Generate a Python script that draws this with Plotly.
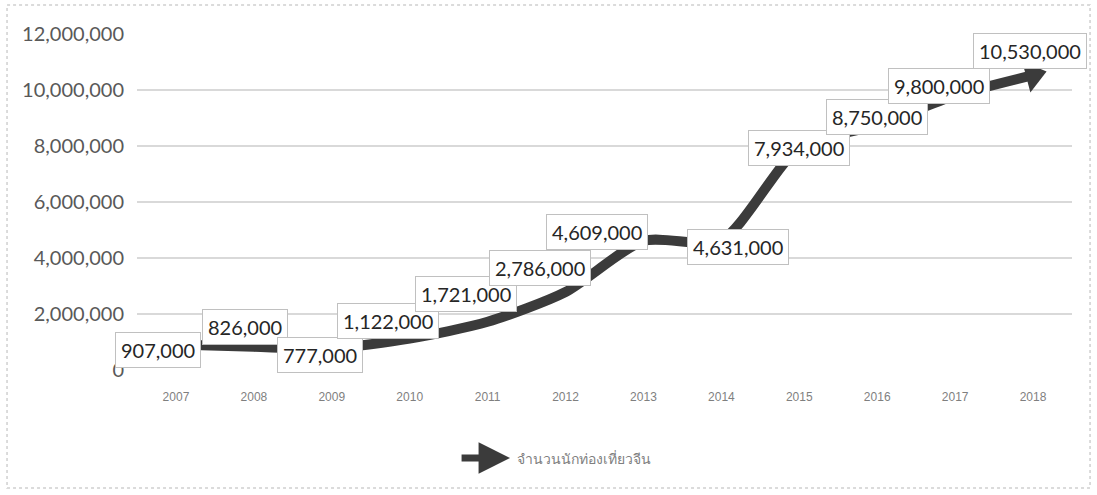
import plotly.graph_objects as go

years = [2007, 2008, 2009, 2010, 2011, 2012, 2013, 2014, 2015, 2016, 2017, 2018]
tourists = [907000, 826000, 777000, 1122000, 1721000, 2786000, 4609000, 4631000,
            7934000, 8750000, 9800000, 10530000]
series_name = "จำนวนนักท่องเที่ยวจีน"
y_ticks = [0, 2000000, 4000000, 6000000, 8000000, 10000000, 12000000]
y_tick_text = ["0", "2,000,000", "4,000,000", "6,000,000", "8,000,000", "10,000,000", "12,000,000"]

# label offsets in pixels (x, y-up)
label_dx = [-18, -9, -12, -22, -22, -26, -46, 17, 0, 0, -16, -3]
label_dy = [-5, 20, -7, 18, 28, 24, 9, -7, 0, 8, 10, 24]

line_color = "#3b3b3b"

fig = go.Figure()
fig.add_trace(go.Scatter(
    x=years, y=tourists, mode="lines", name=series_name,
    line=dict(color=line_color, width=10, shape="spline", smoothing=0.7),
    showlegend=False, hoverinfo="skip",
))
# arrow head at the last point
fig.add_trace(go.Scatter(
    x=years[-2:], y=tourists[-2:], mode="markers",
    marker=dict(symbol="triangle-up", angleref="previous", size=[0, 28],
                color=line_color, opacity=1, line=dict(width=0)),
    showlegend=False, hoverinfo="skip",
))

for yr, v, dx, dy in zip(years, tourists, label_dx, label_dy):
    fig.add_annotation(
        x=yr, y=v, text=f"{v:,}", showarrow=False, xshift=dx, yshift=dy,
        font=dict(family="Lato, Noto Sans, sans-serif", size=20, color="#262626"),
        bgcolor="white", bordercolor="#c0c0c0", borderwidth=1, borderpad=5,
    )

# legend (custom, below chart)
fig.add_annotation(
    xref="paper", yref="paper", x=0.399, y=-0.262, ax=-50, ay=0,
    text="", showarrow=True,
    arrowhead=2, arrowsize=0.9, arrowwidth=7, arrowcolor=line_color,
)
fig.add_annotation(
    xref="paper", yref="paper", x=0.404, y=-0.262, xanchor="left", yanchor="middle",
    text=series_name, showarrow=False,
    font=dict(family="Noto Sans, DejaVu Sans, sans-serif", size=14, color="#7f7f7f"),
)

# outer border
fig.add_shape(type="rect", xref="paper", yref="paper",
              x0=-0.139, x1=1.0193, y0=-0.3512, y1=1.0863,
              line=dict(color="#d0d0d0", width=1.5, dash="dot"), layer="below")

fig.update_layout(
    width=1097, height=495,
    margin=dict(l=137, r=25, t=34, b=125),
    paper_bgcolor="white", plot_bgcolor="white",
    showlegend=False,
    xaxis=dict(
        range=[2006.5, 2018.5], tickmode="array", tickvals=years,
        ticktext=[str(y) for y in years], showgrid=False, zeroline=False,
        showline=False, ticks="",
        tickfont=dict(family="Liberation Sans Narrow, Arial Narrow, sans-serif", size=12, color="#7f7f7f"),
        ticklabelstandoff=18,
    ),
    yaxis=dict(
        range=[0, 12000000], tickmode="array", tickvals=y_ticks, ticktext=y_tick_text,
        showgrid=True, gridcolor="#d9d9d9", gridwidth=1.5, zeroline=False,
        showline=False, ticks="",
        tickfont=dict(family="Lato, Noto Sans, sans-serif", size=20, color="#595959"),
        ticklabelstandoff=12,
    ),
)

fig.write_html("out.html", config={"displayModeBar": False},
               post_script="document.body.style.margin='0';")
